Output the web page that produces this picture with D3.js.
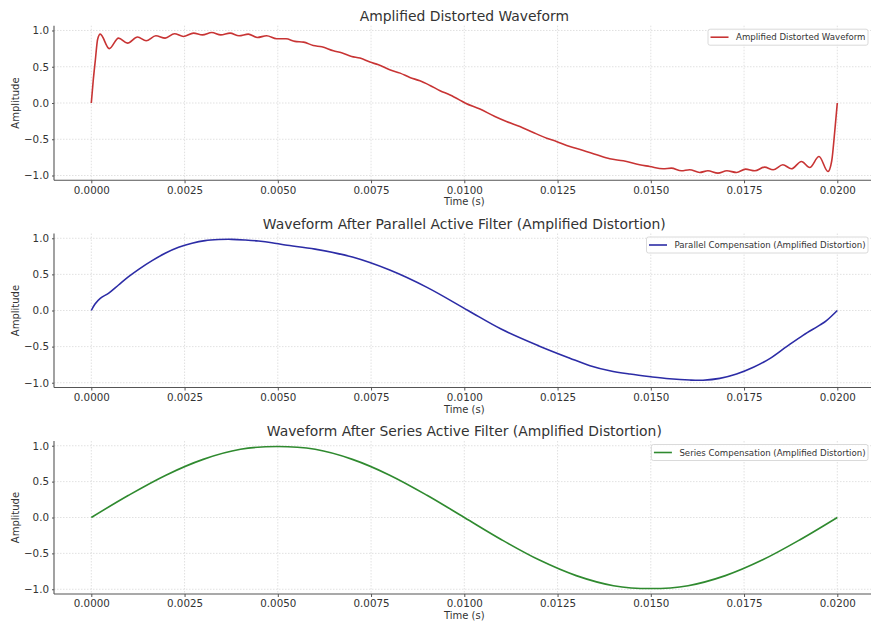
<html>
<head>
  <meta charset="utf-8">
  <script src="https://d3js.org/d3.v7.min.js"></script>
  <style>
    body { margin: 0; background: #fff; }
    svg { font-family: "DejaVu Sans", sans-serif; }
  </style>
</head>
<body>
<svg id="chart"></svg>
<script>
// values
var xTicks = [0, 0.0025, 0.005, 0.0075, 0.01, 0.0125, 0.015, 0.0175, 0.02];
var yTicks = [-1.0, -0.5, 0.0, 0.5, 1.0];

var titles = ["Amplified Distorted Waveform",
              "Waveform After Parallel Active Filter (Amplified Distortion)",
              "Waveform After Series Active Filter (Amplified Distortion)"];
var legendNames = ["Amplified Distorted Waveform",
                   "Parallel Compensation (Amplified Distortion)",
                   "Series Compensation (Amplified Distortion)"];
var colors = ["#c83434", "#2c2ca6", "#2f8a2f"];

var tDistorted = [0, 0.00005, 0.00011, 0.00017, 0.00024, 0.00048, 0.00073, 0.00097, 0.00124, 0.00147,
  0.00173, 0.00198, 0.00223, 0.00247, 0.00274, 0.00298, 0.00323, 0.00347, 0.00372, 0.00396,
  0.00421, 0.00445, 0.0047, 0.00497, 0.00522, 0.00546, 0.00569, 0.00595, 0.00618, 0.00649,
  0.00671, 0.00698, 0.0072, 0.00747, 0.0077, 0.008, 0.00828, 0.00854, 0.00881, 0.00908,
  0.00935, 0.00962, 0.00988, 0.01002, 0.01042, 0.01082, 0.01113, 0.01149, 0.01185, 0.01221,
  0.01247, 0.01283, 0.01319, 0.01355, 0.0139, 0.01426, 0.0147, 0.01497, 0.01533, 0.01555,
  0.01582, 0.01604, 0.01631, 0.01653, 0.0168, 0.01704, 0.0173, 0.01754, 0.01779, 0.01805,
  0.01828, 0.01854, 0.01877, 0.01904, 0.01926, 0.01951, 0.01975, 0.01985, 0.01993, 0.02];
var vDistorted = [0, 0.3, 0.6, 0.88, 0.95, 0.75, 0.895, 0.826, 0.91, 0.858,
  0.927, 0.895, 0.955, 0.918, 0.964, 0.94, 0.972, 0.94, 0.964, 0.927,
  0.95, 0.904, 0.927, 0.886, 0.885, 0.85, 0.84, 0.793, 0.775, 0.72,
  0.692, 0.642, 0.62, 0.564, 0.527, 0.458, 0.412, 0.352, 0.306, 0.242,
  0.17, 0.11, 0.04, 0.0, -0.084, -0.186, -0.255, -0.324, -0.407, -0.485,
  -0.531, -0.6, -0.655, -0.715, -0.77, -0.797, -0.852, -0.875, -0.907, -0.898,
  -0.935, -0.92, -0.958, -0.935, -0.967, -0.935, -0.958, -0.912, -0.935, -0.884,
  -0.921, -0.852, -0.907, -0.807, -0.89, -0.738, -0.945, -0.8, -0.4, 0.0];

var tParallel = [0, 0.0001, 0.00024, 0.00046, 0.00073, 0.001, 0.00127, 0.00163, 0.00198, 0.00234,
  0.0027, 0.00305, 0.00341, 0.00377, 0.00413, 0.00448, 0.00484, 0.0052, 0.006, 0.007,
  0.008, 0.009, 0.0101, 0.011, 0.012, 0.01283, 0.01337, 0.0139, 0.01444, 0.015,
  0.0155, 0.01604, 0.0164, 0.01685, 0.0173, 0.01775, 0.0182, 0.01864, 0.01909, 0.01954,
  0.01971, 0.02];
var vParallel = [0, 0.09, 0.169, 0.238, 0.353, 0.468, 0.57, 0.69, 0.792, 0.875,
  0.931, 0.967, 0.982, 0.985, 0.976, 0.962, 0.939, 0.907, 0.85, 0.74,
  0.56, 0.32, 0.0, -0.26, -0.49, -0.66, -0.764, -0.834, -0.88, -0.917,
  -0.945, -0.963, -0.965, -0.94, -0.88, -0.787, -0.662, -0.5, -0.34, -0.2,
  -0.14, 0];

var tSeries = [0, 0.001, 0.002, 0.003, 0.004, 0.005, 0.006, 0.007, 0.008, 0.009, 0.01,
  0.011, 0.012, 0.013, 0.014, 0.015, 0.016, 0.017, 0.018, 0.019, 0.02];
var vSeries = [0, 0.31, 0.59, 0.81, 0.95, 0.99, 0.95, 0.81, 0.59, 0.31, 0,
  -0.31, -0.59, -0.81, -0.95, -0.99, -0.95, -0.81, -0.59, -0.31, 0];

var w = 871, h = 623;
var left = 54, right = 874.6;
// top / bottom of each axes box
var panels = [
  {top: 25.7, bottom: 180.3, t: tDistorted, v: vDistorted, curve: d3.curveMonotoneX},
  {top: 233.5, bottom: 387.5, t: tParallel, v: vParallel, curve: d3.curveCatmullRom},
  {top: 441, bottom: 594, t: tSeries, v: vSeries, curve: d3.curveCatmullRom}
];

var svg = d3.select("#chart").attr("width", w).attr("height", h);

var xScale = d3.scaleLinear().domain([-0.001, 0.021]).range([left, right]);

panels.forEach(function (p, i) {
  var yScale = d3.scaleLinear().domain([-1.066, 1.066]).range([p.bottom, p.top]);
  var g = svg.append("g");

  // grid
  g.selectAll(".gx").data(xTicks).enter().append("line")
    .attr("x1", function (d) { return xScale(d); })
    .attr("x2", function (d) { return xScale(d); })
    .attr("y1", p.top).attr("y2", p.bottom)
    .attr("stroke", "#d9d9d9").attr("stroke-width", 0.8)
    .attr("stroke-dasharray", "1.5,1.5");
  g.selectAll(".gy").data(yTicks).enter().append("line")
    .attr("x1", left).attr("x2", right)
    .attr("y1", function (d) { return yScale(d); })
    .attr("y2", function (d) { return yScale(d); })
    .attr("stroke", "#d9d9d9").attr("stroke-width", 0.8)
    .attr("stroke-dasharray", "1.5,1.5");

  // axes
  var xAxis = d3.axisBottom(xScale).tickValues(xTicks)
    .tickFormat(d3.format(".4f")).tickSize(3).tickPadding(3);
  var yAxis = d3.axisLeft(yScale).tickValues(yTicks)
    .tickFormat(d3.format(".1f"))
    .tickSize(2).tickPadding(3);

  var gx = g.append("g").attr("transform", "translate(0," + p.bottom + ")").call(xAxis);
  var gy = g.append("g").attr("transform", "translate(" + left + ",0)").call(yAxis);
  [gx, gy].forEach(function (a) {
    a.select(".domain").attr("stroke", "#555").attr("stroke-width", 1.1);
    a.selectAll(".tick line").attr("stroke", "#555");
    a.selectAll(".tick text").attr("fill", "#333")
      .style("font-family", "DejaVu Sans").style("font-size", "10.3px");
  });
  gx.select(".domain").attr("d", "M" + left + ",0H" + right);
  gy.select(".domain").attr("d", "M0," + p.top + "V" + p.bottom);

  // line
  var line = d3.line()
    .x(function (d, k) { return xScale(p.t[k]); })
    .y(function (d) { return yScale(d); })
    .curve(p.curve);
  g.append("path").datum(p.v)
    .attr("d", line)
    .attr("fill", "none")
    .attr("stroke", colors[i])
    .attr("stroke-width", 1.6);

  // title and labels
  g.append("text")
    .attr("x", (left + right) / 2).attr("y", p.top - 4.8)
    .attr("text-anchor", "middle")
    .attr("fill", "#333").style("font-size", "13.9px")
    .text(titles[i]);
  g.append("text")
    .attr("x", (left + right) / 2).attr("y", p.bottom + 25)
    .attr("text-anchor", "middle")
    .attr("fill", "#333").style("font-size", "10px")
    .text("Time (s)");
  g.append("text")
    .attr("transform", "translate(19," + ((p.top + p.bottom) / 2) + ")rotate(-90)")
    .attr("text-anchor", "middle")
    .attr("fill", "#333").style("font-size", "10px")
    .text("Amplitude");

  // legend
  var lg = g.append("g");
  var box = lg.append("rect")
    .attr("fill", "#fff").attr("fill-opacity", 0.85)
    .attr("stroke", "#d0d0d0").attr("stroke-width", 0.8)
    .attr("rx", 2);
  var txt = lg.append("text")
    .attr("fill", "#333").style("font-size", "8.6px")
    .text(legendNames[i]);
  var tw = txt.node().getComputedTextLength();
  var bx1 = right - 6.6, bx0 = bx1 - tw - 30.5;
  var by0 = p.top + 3.5, bh = 16;
  box.attr("x", bx0).attr("y", by0).attr("width", bx1 - bx0).attr("height", bh);
  lg.append("line")
    .attr("x1", bx0 + 2.5).attr("x2", bx0 + 20.5)
    .attr("y1", by0 + bh / 2).attr("y2", by0 + bh / 2)
    .attr("stroke", colors[i]).attr("stroke-width", 1.6);
  txt.attr("x", bx0 + 28).attr("y", by0 + bh / 2 + 3);
});
</script>
</body>
</html>
